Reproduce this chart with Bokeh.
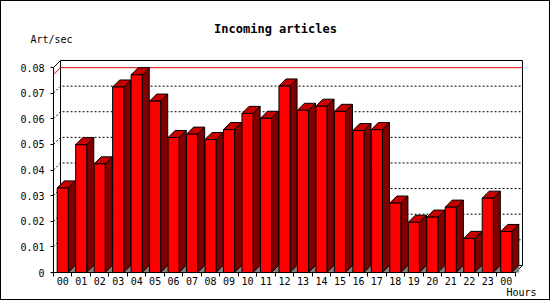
from bokeh.plotting import figure
from bokeh.models import (Range1d, FixedTicker, CustomJSTickFormatter, Label,
                          LinearAxis, ColumnDataSource)
from bokeh.embed import file_html
from bokeh.resources import INLINE

# ---- data ----
HOURS = ["00", "01", "02", "03", "04", "05", "06", "07", "08", "09", "10", "11",
         "12", "13", "14", "15", "16", "17", "18", "19", "20", "21", "22", "23", "00"]
RATES = [0.0330, 0.0499, 0.0424, 0.0724, 0.0772, 0.0669, 0.0527, 0.0540, 0.0519,
         0.0558, 0.0621, 0.0602, 0.0728, 0.0633, 0.0649, 0.0629, 0.0554, 0.0558,
         0.0271, 0.0196, 0.0216, 0.0255, 0.0133, 0.0290, 0.0160]
Y_TICKS = [0, 0.01, 0.02, 0.03, 0.04, 0.05, 0.06, 0.07, 0.08]
TITLE = "Incoming articles"
Y_LABEL = "Art/sec"
X_LABEL = "Hours"

# ---- geometry (pixels, canvas coords; canvas sits inside a 1px border) ----
W, H = 548, 298
LEFT, BOTTOM_PX = 52, 269
PX_X = 18.4
PX_Y = 203 / 0.08
DEPTH = 7
FRAME_W, FRAME_H = 468, 211
DX = DEPTH / PX_X
DY = DEPTH / PX_Y
N = len(RATES)
BAR_W = 0.6

MONO = "DejaVu Sans Mono"

p = figure(width=W, height=H, output_backend="svg", toolbar_location=None,
           x_range=Range1d(0, FRAME_W / PX_X), y_range=Range1d(0, FRAME_H / PX_Y),
           min_border_left=LEFT, min_border_right=W - LEFT - FRAME_W,
           min_border_top=BOTTOM_PX - FRAME_H, min_border_bottom=H - BOTTOM_PX,
           x_axis_location=None, y_axis_location=None)
p.outline_line_color = None
p.xgrid.visible = False
p.ygrid.visible = False
p.background_fill_color = "white"
p.border_fill_color = "white"
p.styles = {"border": "1px solid black", "box-sizing": "content-box"}

# ---- axes ----
yaxis = LinearAxis(ticker=FixedTicker(ticks=Y_TICKS, minor_ticks=[]),
                   formatter=CustomJSTickFormatter(code="return tick == 0 ? '0' : tick.toFixed(2);"))
yaxis.bounds = (0, Y_TICKS[-1])
yaxis.major_tick_out = 3
yaxis.major_tick_in = 0
yaxis.minor_tick_out = 0
yaxis.major_label_standoff = 6
yaxis.major_label_text_font = MONO
yaxis.major_label_text_font_size = "10px"
yaxis.major_label_text_color = "black"
yaxis.axis_line_color = "black"
yaxis.major_tick_line_color = "black"
p.add_layout(yaxis, "left")

xaxis = LinearAxis(ticker=FixedTicker(ticks=[i + 0.5 for i in range(N)],
                                      minor_ticks=list(range(N + 1))),
                   formatter=CustomJSTickFormatter(args=dict(labels=HOURS),
                                                   code="return labels[Math.floor(tick)];"))
xaxis.bounds = (0, N)
xaxis.major_tick_out = 0
xaxis.major_tick_in = 0
xaxis.minor_tick_out = 4
xaxis.minor_tick_in = 0
xaxis.minor_tick_line_color = "black"
xaxis.major_label_standoff = 0
xaxis.major_label_text_font = MONO
xaxis.major_label_text_font_size = "10px"
xaxis.major_label_text_color = "black"
xaxis.axis_line_color = "black"
p.add_layout(xaxis, "below")

# ---- back wall ----
top = Y_TICKS[-1]
p.quad(left=[DX], right=[N + DX], bottom=[DY], top=[top + DY],
       fill_color="white", line_color="black", line_width=1)
p.segment(x0=[0, N], y0=[top, 0], x1=[DX, N + DX], y1=[top + DY, DY],
          line_color="black", line_width=1)

gx, gy = [], []
for t in Y_TICKS[1:-1]:
    gx.append([0, DX, N + DX])
    gy.append([t, t + DY, t + DY])
p.multi_line(xs=gx, ys=gy, line_color="black", line_dash="2 2", line_width=1)

mx = max(RATES)
p.line(x=[0, DX, N + DX], y=[mx, mx + DY, mx + DY], line_color="#e00000", line_width=1)

# ---- 3D bars ----
xl = [i + 0.5 - BAR_W / 2 for i in range(N)]
xr = [i + 0.5 + BAR_W / 2 for i in range(N)]

side_x = [[r, r, r + DX, r + DX] for r in xr]
side_y = [[0, v, v + DY, DY] for v in RATES]
top_x = [[l, l + DX, r + DX, r] for l, r in zip(xl, xr)]
top_y = [[v, v + DY, v + DY, v] for v in RATES]
tri_x = [[r, r + DX, r + DX] for r in xr]
tri_y = [[0, DY, 0] for _ in RATES]

p.patches(xs=tri_x, ys=tri_y, fill_color="#808080", line_color="#808080", line_width=1)
p.patches(xs=side_x, ys=side_y, fill_color="#800000", line_color="black", line_width=1)
p.patches(xs=top_x, ys=top_y, fill_color="#c80000", line_color="black", line_width=1)
src = ColumnDataSource(dict(l=xl, r=xr, v=RATES))
p.quad(left="l", right="r", bottom=0, top="v", source=src,
       fill_color="#ff0000", line_color="black", line_width=1)

# ---- texts (canvas units, in side panels) ----
p.add_layout(Label(x=273, y=26, x_units="canvas", y_units="canvas", text=TITLE,
                   text_align="center", text_baseline="middle", text_font=MONO,
                   text_font_style="bold", text_font_size="12px", text_color="black"), "above")
p.add_layout(Label(x=28, y=37, x_units="canvas", y_units="canvas", text=Y_LABEL,
                   text_align="left", text_baseline="middle", text_font=MONO,
                   text_font_size="10px", text_color="black"), "above")
p.add_layout(Label(x=504, y=290, x_units="canvas", y_units="canvas", text=X_LABEL,
                   text_align="left", text_baseline="middle", text_font=MONO,
                   text_font_size="10px", text_color="black"), "below")

open("out.html", "w").write(file_html(p, INLINE))
